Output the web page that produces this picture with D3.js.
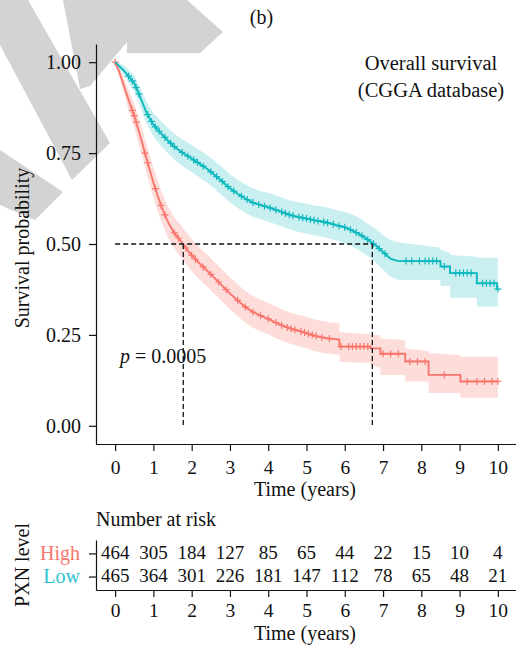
<!DOCTYPE html>
<html>
<head>
<meta charset="utf-8">
<script src="https://cdn.jsdelivr.net/npm/d3@7"></script>
<style>
  html, body { margin: 0; padding: 0; background: #fff; }
  svg { display: block; font-family: "Liberation Serif", "DejaVu Serif", serif; }
</style>
</head>
<body>
<svg id="chart" width="516" height="652"></svg>
<script>
// ---- data ----
const timeTicks = [0, 1, 2, 3, 4, 5, 6, 7, 8, 9, 10];
const probTicks = [0, 0.25, 0.5, 0.75, 1];
const groups = ['High', 'Low'];
const riskHigh = [464, 305, 184, 127, 85, 65, 44, 22, 15, 10, 4];
const riskLow = [465, 364, 301, 226, 181, 147, 112, 78, 65, 48, 21];

// High PXN curve: time, survival, lower CI, upper CI
const hiTime = [0, 0.1, 0.2, 0.3, 0.4, 0.5, 0.6, 0.7, 0.8, 0.9, 1.0, 1.1, 1.2, 1.3, 1.4, 1.5, 1.6, 1.7, 1.8, 1.9, 2.0,
  2.2, 2.4, 2.6, 2.8, 3.0, 3.2, 3.4, 3.6, 3.8, 4.0, 4.2, 4.4, 4.6, 4.8, 5.0, 5.2, 5.4, 5.6, 5.86, 5.86, 6.67, 6.67,
  6.93, 6.93, 7.58, 7.58, 8.19, 8.19, 9.02, 9.02, 10.0];
const hiSurv = [1, 0.975, 0.945, 0.912, 0.882, 0.853, 0.817, 0.781, 0.742, 0.705, 0.669, 0.636, 0.606, 0.58, 0.557,
  0.538, 0.523, 0.51, 0.496, 0.482, 0.469, 0.447, 0.427, 0.406, 0.385, 0.364, 0.345, 0.327, 0.313, 0.303, 0.294,
  0.284, 0.274, 0.267, 0.261, 0.255, 0.248, 0.243, 0.24, 0.237, 0.218, 0.218, 0.213, 0.213, 0.198, 0.198, 0.177,
  0.177, 0.14, 0.14, 0.122, 0.122];
const hiLower = [1, 0.962, 0.925, 0.887, 0.853, 0.821, 0.782, 0.744, 0.703, 0.665, 0.628, 0.595, 0.564, 0.538, 0.514,
  0.495, 0.48, 0.466, 0.452, 0.438, 0.425, 0.403, 0.383, 0.362, 0.341, 0.32, 0.301, 0.284, 0.27, 0.26, 0.251,
  0.241, 0.232, 0.225, 0.219, 0.213, 0.206, 0.201, 0.198, 0.195, 0.176, 0.173, 0.168, 0.16, 0.14, 0.14, 0.122,
  0.122, 0.09, 0.09, 0.077, 0.077];
const hiUpper = [1, 0.988, 0.965, 0.937, 0.911, 0.885, 0.852, 0.818, 0.781, 0.745, 0.71, 0.678, 0.648, 0.622, 0.6,
  0.582, 0.567, 0.554, 0.54, 0.526, 0.513, 0.491, 0.471, 0.45, 0.429, 0.408, 0.389, 0.371, 0.357, 0.347, 0.338,
  0.328, 0.318, 0.311, 0.305, 0.3, 0.293, 0.288, 0.285, 0.282, 0.257, 0.252, 0.25, 0.25, 0.24, 0.235, 0.213,
  0.205, 0.2, 0.195, 0.19, 0.19];

// Low PXN curve
const loTime = [0, 0.1, 0.2, 0.3, 0.4, 0.5, 0.6, 0.7, 0.8, 0.9, 1.0, 1.2, 1.4, 1.6, 1.8, 2.0, 2.2, 2.4, 2.6, 2.8, 3.0,
  3.2, 3.4, 3.6, 3.8, 4.0, 4.2, 4.4, 4.6, 4.8, 5.0, 5.2, 5.4, 5.6, 5.8, 6.0, 6.2, 6.4, 6.6, 6.8, 7.0, 7.19, 7.4,
  8.5, 8.5, 8.75, 8.75, 9.45, 9.45, 9.98, 9.98, 10.0];
const loSurv = [1, 0.99, 0.98, 0.968, 0.955, 0.942, 0.918, 0.892, 0.866, 0.846, 0.828, 0.804, 0.782, 0.763, 0.748,
  0.735, 0.721, 0.707, 0.69, 0.672, 0.653, 0.638, 0.625, 0.614, 0.607, 0.601, 0.594, 0.586, 0.579, 0.574, 0.57,
  0.565, 0.562, 0.557, 0.551, 0.546, 0.537, 0.526, 0.512, 0.497, 0.478, 0.46, 0.453, 0.453, 0.438, 0.438, 0.42,
  0.42, 0.392, 0.392, 0.376, 0.376];
const loLower = [1, 0.981, 0.967, 0.952, 0.936, 0.921, 0.894, 0.865, 0.837, 0.815, 0.796, 0.77, 0.747, 0.727, 0.711,
  0.698, 0.683, 0.669, 0.652, 0.633, 0.614, 0.599, 0.586, 0.575, 0.568, 0.561, 0.554, 0.546, 0.539, 0.533, 0.529,
  0.524, 0.52, 0.515, 0.509, 0.503, 0.493, 0.481, 0.466, 0.45, 0.43, 0.41, 0.401, 0.401, 0.385, 0.385, 0.352,
  0.352, 0.328, 0.328, 0.328, 0.328];
const loUpper = [1, 0.999, 0.993, 0.984, 0.974, 0.963, 0.942, 0.919, 0.895, 0.877, 0.86, 0.838, 0.817, 0.799, 0.785,
  0.772, 0.759, 0.745, 0.728, 0.711, 0.692, 0.677, 0.664, 0.653, 0.646, 0.641, 0.634, 0.626, 0.619, 0.615, 0.611,
  0.606, 0.604, 0.599, 0.593, 0.589, 0.581, 0.571, 0.556, 0.542, 0.524, 0.511, 0.505, 0.49, 0.484, 0.475, 0.47,
  0.465, 0.462, 0.462, 0.462, 0.462];

// censoring times
const hiCensor = [0.0, 0.45, 0.5, 0.55, 0.78, 0.85, 1.05, 1.2, 1.3, 1.55, 1.65, 1.85, 2.0, 2.1, 2.3, 2.5, 2.7, 2.9,
  3.2, 3.4, 3.6, 3.8, 4.0, 4.2, 4.35, 4.5, 4.6, 4.7, 4.85, 4.95, 5.05, 5.15, 5.25, 5.4, 5.6, 5.9, 6.1, 6.2, 6.3,
  6.4, 6.5, 6.6, 7.0, 7.2, 7.4, 7.7, 7.9, 8.1, 8.6, 9.2, 9.45, 9.65, 9.85, 10.0];
const loCensor = [0.35, 0.45, 0.55, 0.62, 0.85, 0.95, 1.05, 1.15, 1.3, 1.45, 1.55, 1.75, 1.9, 2.05, 2.15, 2.3, 2.5,
  2.65, 2.8, 2.95, 3.1, 3.3, 3.45, 3.6, 3.75, 3.9, 4.05, 4.2, 4.35, 4.45, 4.55, 4.65, 4.8, 4.9, 5.0, 5.1, 5.2, 5.3,
  5.45, 5.55, 5.7, 5.85, 6.0, 6.15, 6.3, 6.45, 6.6, 6.75, 6.9, 7.05, 7.6, 7.75, 7.95, 8.1, 8.2, 8.3, 8.4, 8.6, 8.9,
  9.0, 9.1, 9.2, 9.3, 9.6, 9.7, 9.8, 9.9, 10.0];

const medianHigh = 1.78;
const medianLow = 6.72;
const pText = '= 0.0005';

// watermark polygons (background logo)
const watermark = [
  [[0, 0], [28, 0], [110, 143], [72, 180], [0, 45]],
  [[63, 0], [187, 0], [223, 32], [200, 53], [127, 53], [127, 42], [90, 86], [80, 89]],
  [[0, 150], [63, 192], [35, 220], [0, 205]]
];

const colHigh = '#F8766D';
const colLow = '#0DB8BD';
const colLowLabel = '#2EC4CF';
const ink = '#111';

const svg = d3.select('#chart');

svg.selectAll('polygon.wm')
  .data(watermark)
  .enter().append('polygon')
  .attr('class', 'wm')
  .attr('points', d => d.map(p => p.join(',')).join(' '))
  .attr('fill', '#d3d3d3');

// main panel scales
const x = d3.scaleLinear().domain([-0.5, 10.5]).range([96, 517]);
const y = d3.scaleLinear().domain([-0.05, 1.05]).range([444, 44]);

function series(time, surv, lo, hi) {
  return time.map((t, i) => ({ t: t, s: surv[i], lo: lo[i], hi: hi[i] }));
}
const hiData = series(hiTime, hiSurv, hiLower, hiUpper);
const loData = series(loTime, loSurv, loLower, loUpper);

const area = d3.area().x(d => x(d.t)).y0(d => y(d.lo)).y1(d => y(d.hi));
const line = d3.line().x(d => x(d.t)).y(d => y(d.s));

// survival value at a time, by walking the read-off points
function survAt(time, surv, t) {
  let i = 0;
  while (i < time.length - 1 && time[i + 1] <= t) i++;
  if (i < time.length - 1 && time[i + 1] > time[i]) {
    const f = (t - time[i]) / (time[i + 1] - time[i]);
    return surv[i] + f * (surv[i + 1] - surv[i]);
  }
  return surv[i];
}

const curves = [
  { data: hiData, col: colHigh, censor: hiCensor, time: hiTime, surv: hiSurv, op: 0.25 },
  { data: loData, col: colLow, censor: loCensor, time: loTime, surv: loSurv, op: 0.22 }
];

curves.forEach(c => {
  svg.append('path').attr('d', area(c.data)).attr('fill', c.col).attr('fill-opacity', c.op);
});
curves.forEach(c => {
  svg.append('path').attr('d', line(c.data)).attr('fill', 'none')
    .attr('stroke', c.col).attr('stroke-width', 1.9);
  svg.append('g').selectAll('path')
    .data(c.censor)
    .enter().append('path')
    .attr('d', t => {
      const px = x(t), py = y(survAt(c.time, c.surv, t));
      return `M${px - 3.5},${py}h7M${px},${py - 3.5}v7`;
    })
    .attr('stroke', c.col).attr('stroke-width', 1.2);
});

// median lines
const dash = svg.append('g').attr('stroke', ink).attr('stroke-width', 1.3)
  .attr('stroke-dasharray', '5,3');
dash.append('line').attr('x1', x(0)).attr('x2', x(medianLow)).attr('y1', y(0.5)).attr('y2', y(0.5));
[medianHigh, medianLow].forEach(m => {
  dash.append('line').attr('x1', x(m)).attr('x2', x(m)).attr('y1', y(0.5)).attr('y2', y(0));
});

// axes
function styleAxis(g, size) {
  g.selectAll('path.domain').attr('stroke', ink).attr('stroke-width', 1.2);
  g.selectAll('.tick line').attr('stroke', ink).attr('stroke-width', 1.2);
  g.selectAll('.tick text').attr('fill', ink).style('font-size', size || '20px')
    .style('font-family', '"Liberation Serif", serif');
}

svg.append('g').attr('transform', 'translate(96,0)')
  .call(d3.axisLeft(y).tickValues(probTicks).tickFormat(d3.format('.2f'))
    .tickSize(7).tickSizeOuter(0).tickPadding(8))
  .call(styleAxis);

svg.append('g').attr('transform', 'translate(0,444)')
  .call(d3.axisBottom(x).tickValues(timeTicks).tickSize(7).tickSizeOuter(0).tickPadding(9))
  .call(g => styleAxis(g, '19.5px'));

svg.append('text').attr('x', 305).attr('y', 496).attr('text-anchor', 'middle')
  .style('font-size', '20px').attr('fill', ink).text('Time (years)');

svg.append('text').attr('transform', 'translate(29,248) rotate(-90)').attr('text-anchor', 'middle')
  .style('font-size', '20px').attr('fill', ink).text('Survival probability');

svg.append('text').attr('x', 261.5).attr('y', 24).attr('text-anchor', 'middle')
  .style('font-size', '20px').attr('fill', ink).text('(b)');

svg.append('text').attr('x', 431).attr('y', 70).attr('text-anchor', 'middle')
  .style('font-size', '20.5px').attr('fill', ink).text('Overall survival');
svg.append('text').attr('x', 431).attr('y', 97).attr('text-anchor', 'middle')
  .style('font-size', '20.5px').attr('fill', ink).text('(CGGA database)');

const pv = svg.append('text').attr('x', 120).attr('y', 363)
  .style('font-size', '20px').attr('fill', ink);
pv.append('tspan').style('font-style', 'italic').text('p');
pv.append('tspan').text(' ' + pText);

// risk table
const yr = d3.scalePoint().domain(groups).range([540, 590]).padding(0.58);

svg.append('text').attr('x', 96).attr('y', 526)
  .style('font-size', '20px').attr('fill', ink).text('Number at risk');

const ry = svg.append('g').attr('transform', 'translate(96,0)')
  .call(d3.axisLeft(yr).tickSize(7).tickSizeOuter(0).tickPadding(9))
  .call(styleAxis);
ry.selectAll('.tick text').attr('fill', d => d === 'High' ? colHigh : colLowLabel);

svg.append('g').attr('transform', 'translate(0,590)')
  .call(d3.axisBottom(x).tickValues(timeTicks).tickSize(7).tickSizeOuter(0).tickPadding(6))
  .call(g => styleAxis(g, '19.5px'));

[[riskHigh, 'High'], [riskLow, 'Low']].forEach(([vals, g]) => {
  svg.append('g').selectAll('text')
    .data(vals)
    .enter().append('text')
    .attr('x', (d, i) => x(timeTicks[i]))
    .attr('y', yr(g))
    .attr('dy', '0.3em')
    .attr('text-anchor', 'middle')
    .style('font-size', '19px').attr('fill', ink)
    .text(d => d);
});

svg.append('text').attr('x', 305).attr('y', 640).attr('text-anchor', 'middle')
  .style('font-size', '20px').attr('fill', ink).text('Time (years)');

svg.append('text').attr('transform', 'translate(29,565) rotate(-90)').attr('text-anchor', 'middle')
  .style('font-size', '20px').attr('fill', ink).text('PXN level');
</script>
</body>
</html>
